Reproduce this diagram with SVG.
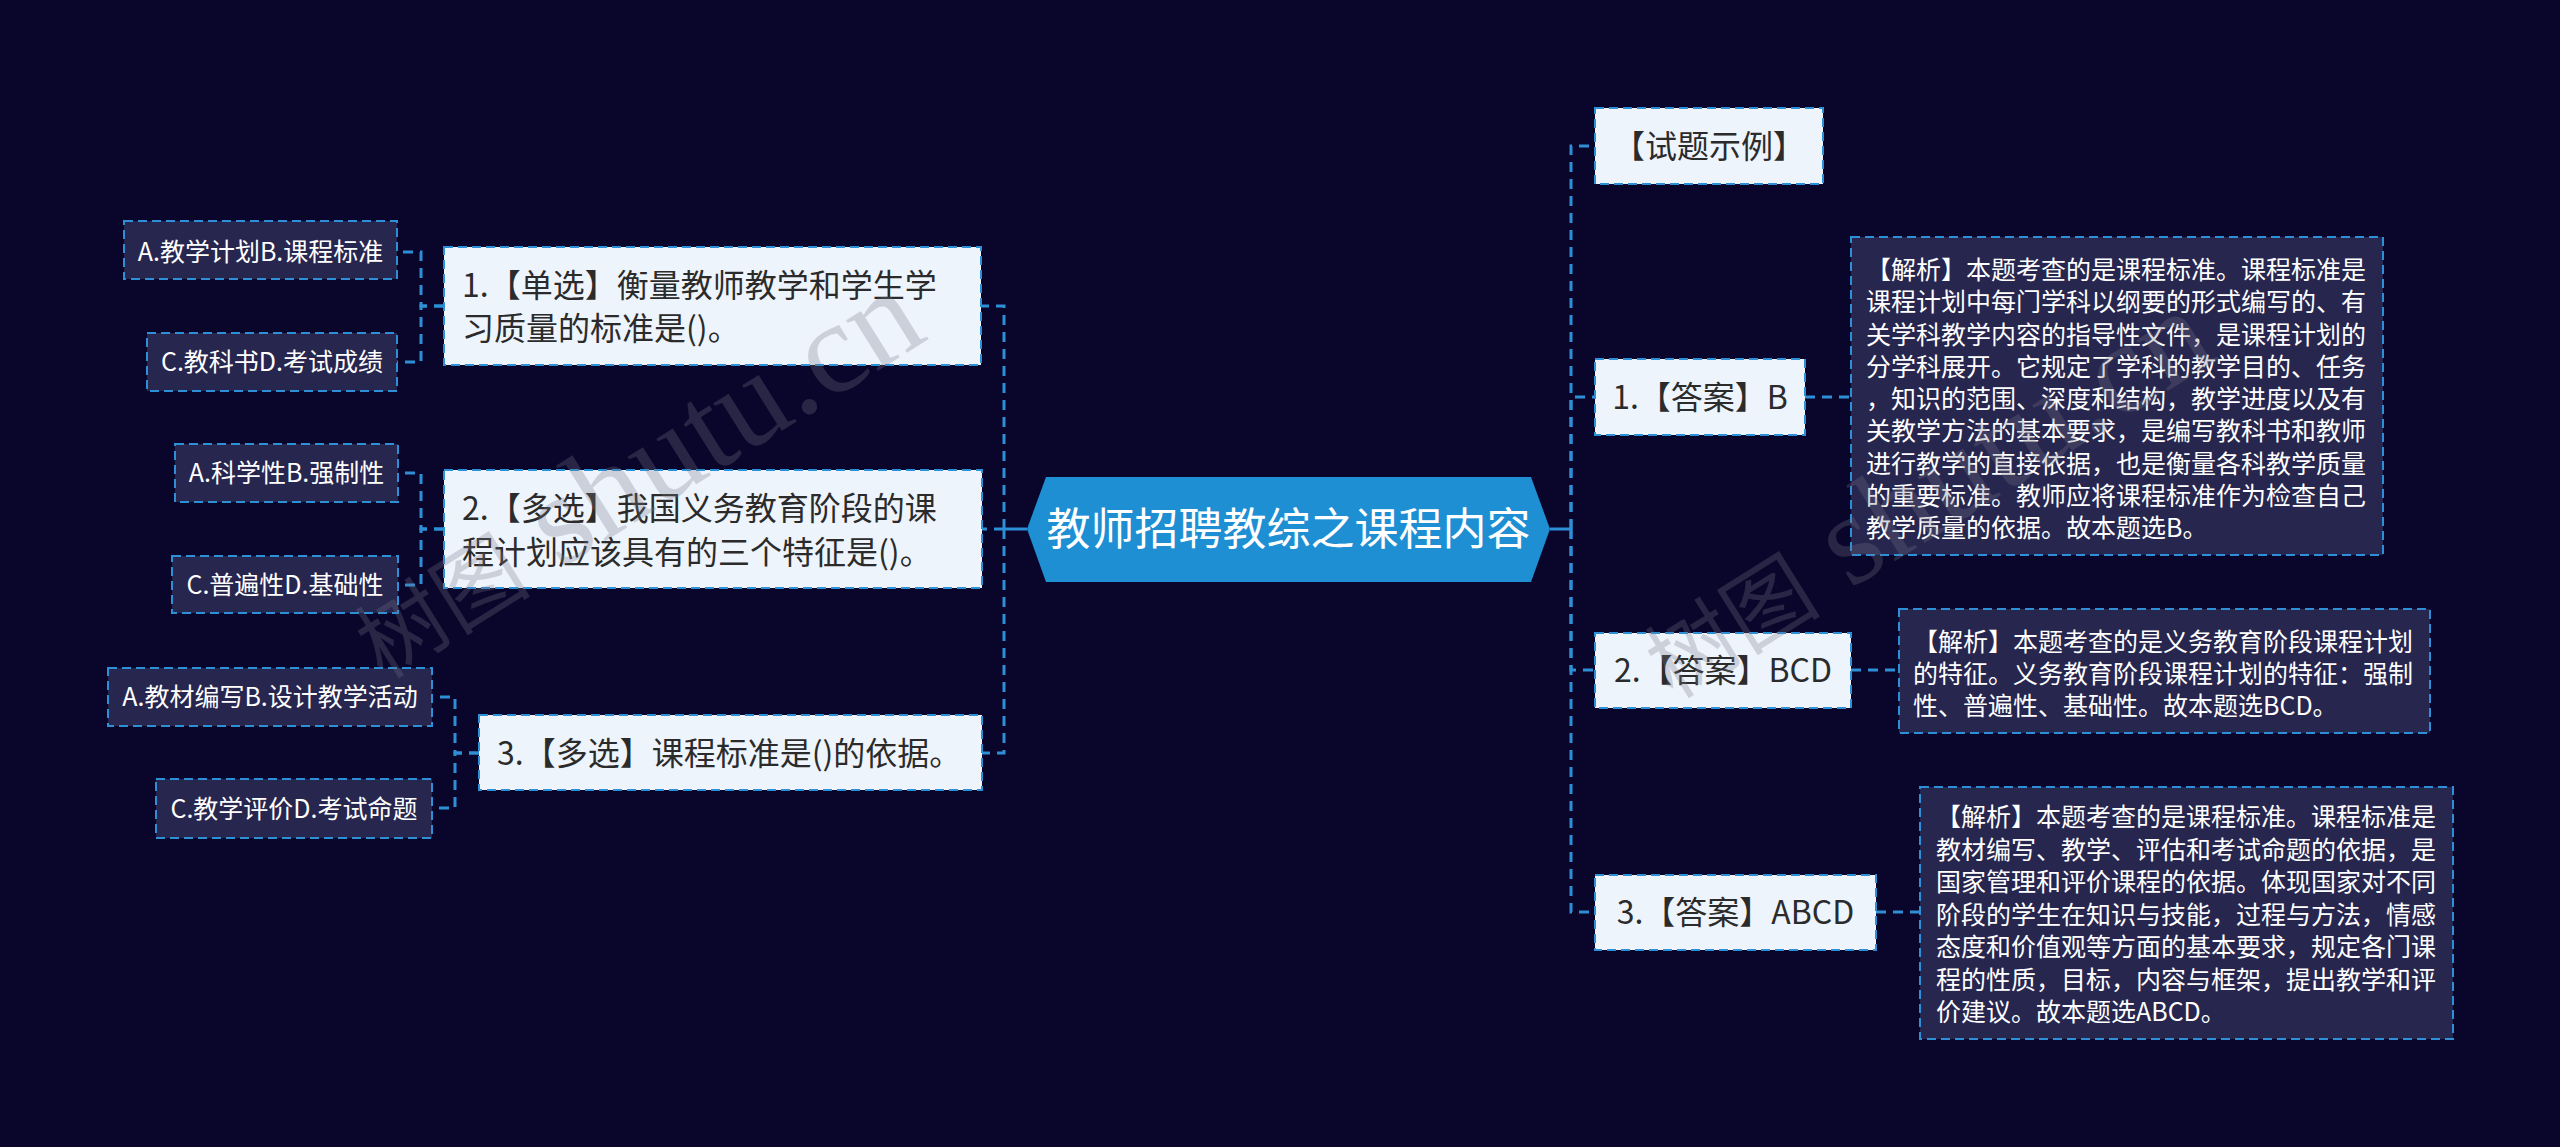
<svg xmlns="http://www.w3.org/2000/svg" width="2560" height="1147" viewBox="0 0 2560 1147">
<defs>
<style>
.bg{fill:#0a052b}
.l1{fill:#eef4fc;stroke:#2d8fd5;stroke-width:2;stroke-dasharray:9 5}
.l2{fill:#27264f;stroke:#2d8fd5;stroke-width:2;stroke-dasharray:9 5}
.root{fill:#1f8fd3}
.t1{font-family:"Noto Sans CJK SC","Microsoft YaHei",sans-serif;font-size:32px;fill:#2b2b2b}
.t2{font-family:"Noto Sans CJK SC","Microsoft YaHei",sans-serif;font-size:25px;fill:#ffffff}
.tr{font-family:"Noto Sans CJK SC","Microsoft YaHei",sans-serif;font-size:44px;fill:#ffffff}
.mid{text-anchor:middle}
.dash{fill:none;stroke:#2d8fd5;stroke-width:3;stroke-dasharray:10 7}
.solid{fill:none;stroke:#2d8fd5;stroke-width:3}
.wm{fill:#777788;opacity:0.28}
.wmc{font-family:"Noto Sans CJK SC",sans-serif;font-size:88px}
.wml{font-family:"Liberation Serif",serif;font-size:130px}
</style>
</defs>
<rect class="bg" x="0" y="0" width="2560" height="1147"/>

<g id="connectors">
<path class="solid" d="M1027 529 H1004"/>
<path class="dash" d="M1004 529 V306 H981"/>
<path class="dash" d="M1004 529 H982"/>
<path class="dash" d="M1004 529 V753 H982"/>
<path class="dash" d="M444 306 H421 V252 H397"/>
<path class="dash" d="M444 306 H421 V362 H397"/>
<path class="dash" d="M444 529 H421 V473 H398"/>
<path class="dash" d="M444 529 H421 V585 H398"/>
<path class="dash" d="M479 753 H455 V697 H432"/>
<path class="dash" d="M479 753 H455 V808 H432"/>
<path class="solid" d="M1550 529 H1571"/>
<path class="dash" d="M1571 529 V146 H1595"/>
<path class="dash" d="M1571 529 V397 H1595"/>
<path class="dash" d="M1571 529 V670 H1595"/>
<path class="dash" d="M1571 529 V912 H1595"/>
<path class="dash" d="M1805 397 H1851"/>
<path class="dash" d="M1851 670 H1899"/>
<path class="dash" d="M1876 912 H1920"/>
</g>

<g id="root">
<polygon class="root" points="1027,529 1046,477 1531,477 1550,529 1531,582 1046,582"/>
<text class="tr mid" x="1288.5" y="545">教师招聘教综之课程内容</text>
</g>

<g id="q1">
<rect class="l1" x="444" y="247" width="537" height="118"/>
<text class="t1" x="462" y="297">1.【单选】衡量教师教学和学生学</text>
<text class="t1" x="462" y="340">习质量的标准是()。</text>
</g>
<g id="q1a">
<rect class="l2" x="124" y="221" width="273" height="58"/>
<text class="t2 mid" x="260.5" y="261">A.教学计划B.课程标准</text>
</g>
<g id="q1b">
<rect class="l2" x="147" y="333" width="250" height="58"/>
<text class="t2 mid" x="272" y="371">C.教科书D.考试成绩</text>
</g>

<g id="q2">
<rect class="l1" x="444" y="470" width="538" height="118"/>
<text class="t1" x="462" y="520">2.【多选】我国义务教育阶段的课</text>
<text class="t1" x="462" y="564">程计划应该具有的三个特征是()。</text>
</g>
<g id="q2a">
<rect class="l2" x="175" y="444" width="223" height="58"/>
<text class="t2 mid" x="286.5" y="482">A.科学性B.强制性</text>
</g>
<g id="q2b">
<rect class="l2" x="172" y="556" width="226" height="57"/>
<text class="t2 mid" x="285" y="594">C.普遍性D.基础性</text>
</g>

<g id="q3">
<rect class="l1" x="479" y="715" width="503" height="75"/>
<text class="t1" x="497" y="765">3.【多选】课程标准是()的依据。</text>
</g>
<g id="q3a">
<rect class="l2" x="108" y="668" width="324" height="58"/>
<text class="t2 mid" x="270" y="706">A.教材编写B.设计教学活动</text>
</g>
<g id="q3b">
<rect class="l2" x="156" y="779" width="276" height="59"/>
<text class="t2 mid" x="294" y="818">C.教学评价D.考试命题</text>
</g>

<g id="example">
<rect class="l1" x="1595" y="108" width="228" height="76"/>
<text class="t1 mid" x="1709" y="158">【试题示例】</text>
</g>

<g id="ans1">
<rect class="l1" x="1595" y="359" width="210" height="76"/>
<text class="t1 mid" x="1700" y="409">1.【答案】B</text>
</g>
<g id="exp1">
<rect class="l2" x="1851" y="237" width="532" height="318"/>
<text class="t2" x="1866" y="279">【解析】本题考查的是课程标准。课程标准是</text>
<text class="t2" x="1866" y="311">课程计划中每门学科以纲要的形式编写的、有</text>
<text class="t2" x="1866" y="344">关学科教学内容的指导性文件，是课程计划的</text>
<text class="t2" x="1866" y="376">分学科展开。它规定了学科的教学目的、任务</text>
<text class="t2" x="1866" y="408">，知识的范围、深度和结构，教学进度以及有</text>
<text class="t2" x="1866" y="440">关教学方法的基本要求，是编写教科书和教师</text>
<text class="t2" x="1866" y="473">进行教学的直接依据，也是衡量各科教学质量</text>
<text class="t2" x="1866" y="505">的重要标准。教师应将课程标准作为检查自己</text>
<text class="t2" x="1866" y="537">教学质量的依据。故本题选B。</text>
</g>

<g id="ans2">
<rect class="l1" x="1595" y="633" width="256" height="75"/>
<text class="t1 mid" x="1723" y="682">2.【答案】BCD</text>
</g>
<g id="exp2">
<rect class="l2" x="1899" y="609" width="531" height="124"/>
<text class="t2" x="1913" y="651">【解析】本题考查的是义务教育阶段课程计划</text>
<text class="t2" x="1913" y="683">的特征。义务教育阶段课程计划的特征：强制</text>
<text class="t2" x="1913" y="715">性、普遍性、基础性。故本题选BCD。</text>
</g>

<g id="ans3">
<rect class="l1" x="1595" y="875" width="281" height="75"/>
<text class="t1 mid" x="1735.5" y="924">3.【答案】ABCD</text>
</g>
<g id="exp3">
<rect class="l2" x="1920" y="787" width="533" height="252"/>
<text class="t2" x="1936" y="826">【解析】本题考查的是课程标准。课程标准是</text>
<text class="t2" x="1936" y="859">教材编写、教学、评估和考试命题的依据，是</text>
<text class="t2" x="1936" y="891">国家管理和评价课程的依据。体现国家对不同</text>
<text class="t2" x="1936" y="924">阶段的学生在知识与技能，过程与方法，情感</text>
<text class="t2" x="1936" y="956">态度和价值观等方面的基本要求，规定各门课</text>
<text class="t2" x="1936" y="989">程的性质，目标，内容与框架，提出教学和评</text>
<text class="t2" x="1936" y="1021">价建议。故本题选ABCD。</text>
</g>

<g id="watermark">
<text class="wm" x="383" y="680" transform="rotate(-32 383 680)"><tspan class="wmc">树图</tspan><tspan class="wml"> shutu.cn</tspan></text>
<text class="wm" x="1673" y="700" transform="rotate(-32 1673 700)"><tspan class="wmc">树图</tspan><tspan class="wml"> shutu.cn</tspan></text>
</g>
</svg>
